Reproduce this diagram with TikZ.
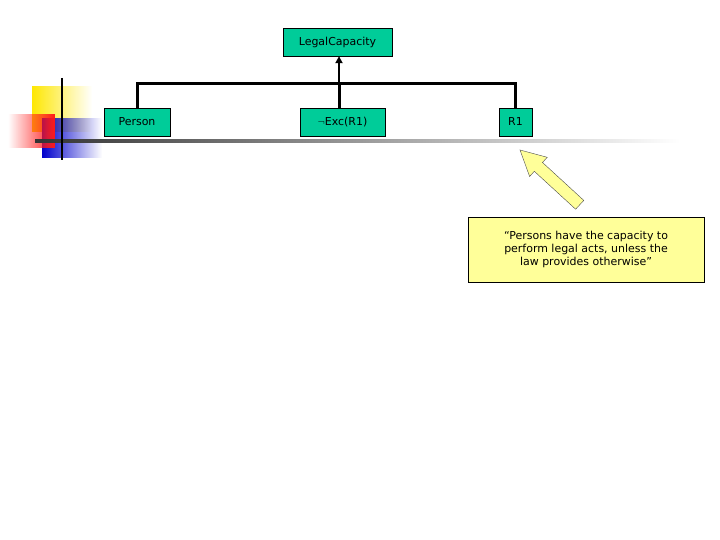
\documentclass[tikz,border=0pt]{standalone}
\usepackage{fontspec}
\setmainfont{DejaVu Sans}
\usetikzlibrary{fadings,arrows.meta}
\definecolor{boxg}{RGB}{0,204,153}
\definecolor{noteY}{RGB}{255,255,153}
\begin{document}
\begin{tikzpicture}[x=1bp,y=-1bp,
  box/.style={draw=black,fill=boxg,minimum height=28bp,inner sep=2bp,font=\fontsize{11}{13}\selectfont},
  conn/.style={line width=3bp}]
\useasboundingbox (0,0) rectangle (720,540);
% decoration
\fill[yellow!90!orange,path fading=east] (32,86) rectangle (92,132);
\fill[blue!80!black,path fading=east] (42,118) rectangle (102,158);
\fill[red!90,path fading=west] (8,114) rectangle (55,148);
\shade[left color=black!80,right color=white] (35,140) rectangle (680,143);
\draw[line width=2bp] (62,78) -- (62,160);
% nodes
\node[box,minimum width=109bp] (lc) at (337.5,42) {LegalCapacity};
\node[box,minimum width=66bp] (p) at (137,122) {Person};
\node[box,minimum width=85bp] (e) at (342.5,122) {$\neg$Exc(R1)};
\node[box,minimum width=33bp] (r) at (515.5,122) {R1};
\coordinate (bar) at (339,84);
\draw[conn] (p.north) |- (bar) -| (r.north);
\draw[conn] (e.north -| bar) -- (bar);
\draw[line width=2bp,-{Triangle[length=7bp,width=7bp]}] (bar) -- (lc.south -| bar);
% note
\node[draw=black,fill=noteY,minimum width=236bp,minimum height=65bp,align=center,
  font=\fontsize{11}{13}\selectfont] (n) at (586,249.5)
  {“Persons have the capacity to\\perform legal acts, unless the\\law provides otherwise”};
\draw[fill=noteY,draw=black!70] (520,150) -- (547.2,157.3) -- (542.5,162.5) -- (583.8,200.4)
  -- (575.6,209.2) -- (534.3,171.3) -- (529.6,176.5) -- cycle;
\end{tikzpicture}
\end{document}
